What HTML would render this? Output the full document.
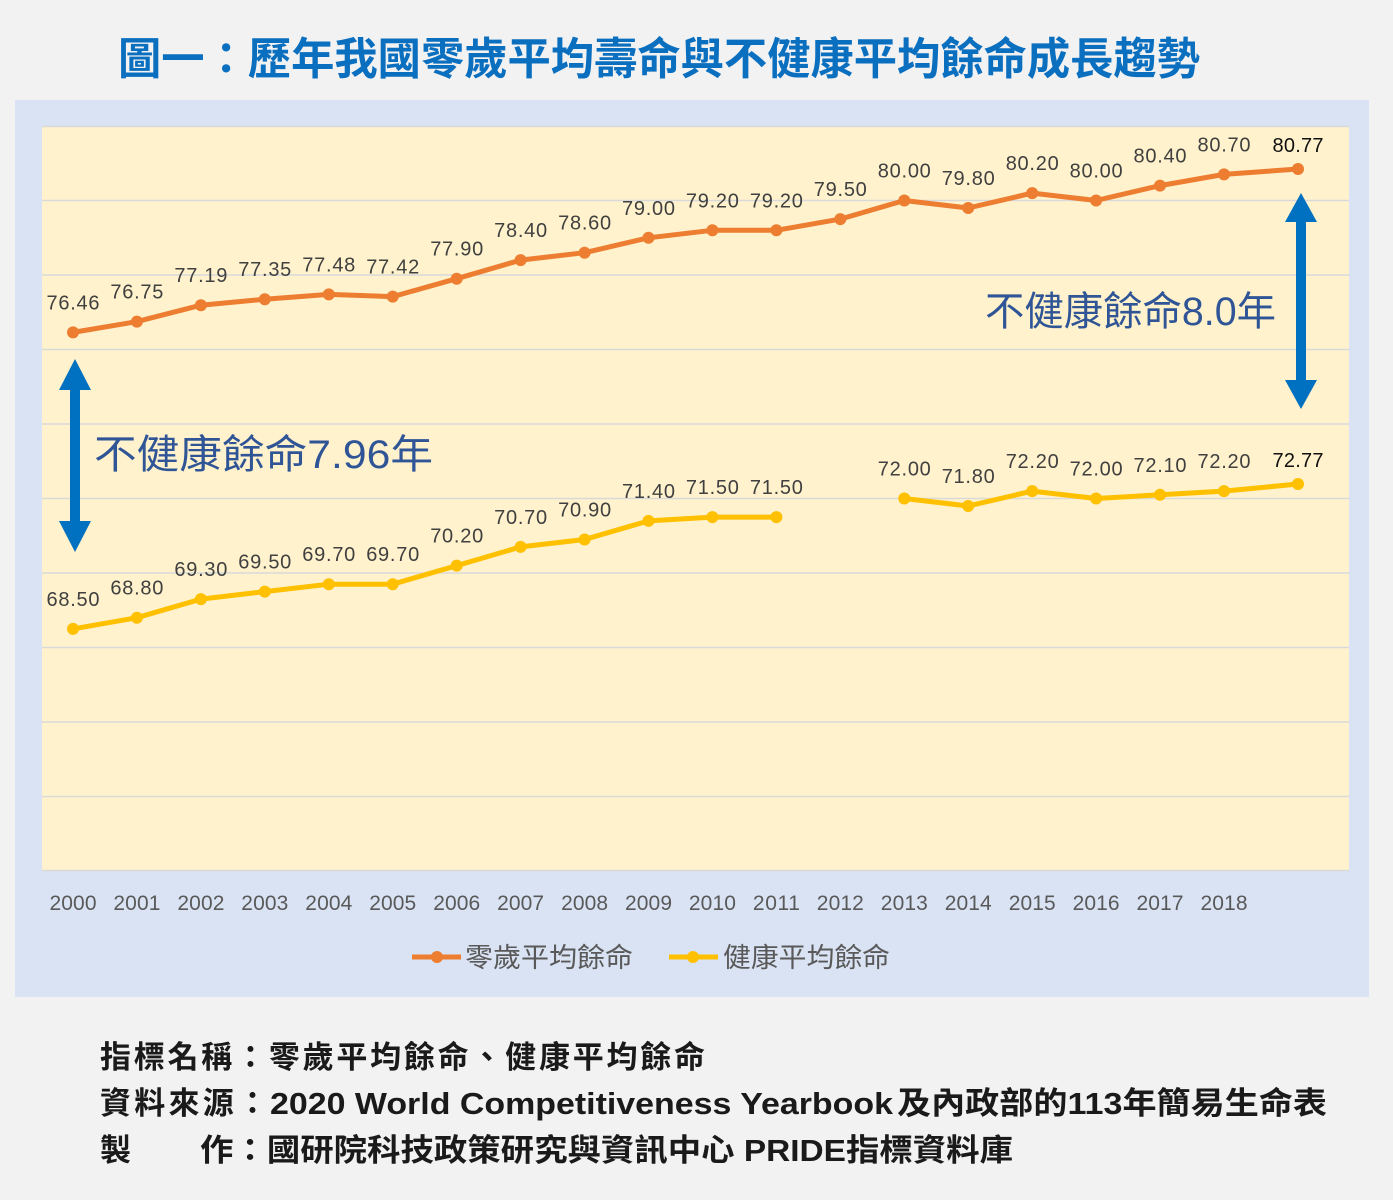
<!DOCTYPE html>
<html>
<head>
<meta charset="utf-8">
<style>
  html,body{margin:0;padding:0;background:#f2f2f2;}
  svg{display:block;}
  .lbl{font-family:"Liberation Sans","Noto Sans CJK TC",sans-serif;font-size:20px;fill:#404040;text-anchor:middle;}
  .lblb{font-family:"Liberation Sans","Noto Sans CJK TC",sans-serif;font-size:20px;fill:#111;text-anchor:middle;}
  .ax{font-family:"Liberation Sans","Noto Sans CJK TC",sans-serif;font-size:21px;fill:#595959;text-anchor:middle;}
  .cjk{font-family:"Liberation Sans","Noto Sans CJK TC",sans-serif;}
</style>
</head>
<body>
<svg width="1393" height="1200" viewBox="0 0 1393 1200" xmlns="http://www.w3.org/2000/svg">
  <rect x="0" y="0" width="1393" height="1200" fill="#f2f2f2"/>
  <!-- title -->
  <text x="118" y="74" class="cjk" font-size="44" font-weight="bold" fill="#0b6fc0" textLength="1082" lengthAdjust="spacingAndGlyphs">圖一：歷年我國零歲平均壽命與不健康平均餘命成長趨勢</text>

  <!-- panel -->
  <rect x="15" y="100" width="1354" height="897" fill="#dae3f3"/>
  <!-- plot area -->
  <rect x="42" y="126" width="1307" height="745" fill="#fff2cc"/>
  <g stroke="#d9d9d9" stroke-width="1.5">
    <line x1="42" y1="126.5" x2="1349" y2="126.5"/>
    <line x1="42" y1="200.5" x2="1349" y2="200.5"/>
    <line x1="42" y1="275" x2="1349" y2="275"/>
    <line x1="42" y1="349.5" x2="1349" y2="349.5"/>
    <line x1="42" y1="424" x2="1349" y2="424"/>
    <line x1="42" y1="498.5" x2="1349" y2="498.5"/>
    <line x1="42" y1="573" x2="1349" y2="573"/>
    <line x1="42" y1="647.5" x2="1349" y2="647.5"/>
    <line x1="42" y1="722" x2="1349" y2="722"/>
    <line x1="42" y1="796.5" x2="1349" y2="796.5"/>
    <line x1="42" y1="870.5" x2="1349" y2="870.5"/>
  </g>

  <!-- orange series -->
  <polyline fill="none" stroke="#ed7d31" stroke-width="5" stroke-linejoin="round" stroke-linecap="round"
    points="73,332.4 136.9,321.6 200.9,305.2 264.8,299.2 328.8,294.4 392.7,296.6 456.7,278.7 520.6,260.1 584.6,252.7 648.5,237.8 712.4,230.3 776.4,230.3 840.3,219.1 904.3,200.5 968.2,208 1032.2,193.1 1096.1,200.5 1160,185.6 1224,174.4 1298,169"/>
  <g fill="#ed7d31">
    <circle cx="73" cy="332.4" r="6"/><circle cx="136.9" cy="321.6" r="6"/><circle cx="200.9" cy="305.2" r="6"/>
    <circle cx="264.8" cy="299.2" r="6"/><circle cx="328.8" cy="294.4" r="6"/><circle cx="392.7" cy="296.6" r="6"/>
    <circle cx="456.7" cy="278.7" r="6"/><circle cx="520.6" cy="260.1" r="6"/><circle cx="584.6" cy="252.7" r="6"/>
    <circle cx="648.5" cy="237.8" r="6"/><circle cx="712.4" cy="230.3" r="6"/><circle cx="776.4" cy="230.3" r="6"/>
    <circle cx="840.3" cy="219.1" r="6"/><circle cx="904.3" cy="200.5" r="6"/><circle cx="968.2" cy="208" r="6"/>
    <circle cx="1032.2" cy="193.1" r="6"/><circle cx="1096.1" cy="200.5" r="6"/><circle cx="1160" cy="185.6" r="6"/>
    <circle cx="1224" cy="174.4" r="6"/><circle cx="1298" cy="169" r="6"/>
  </g>
  <g>
    <text class="lbl" x="73" y="309.4" textLength="53">76.46</text>
    <text class="lbl" x="136.9" y="298.6" textLength="53">76.75</text>
    <text class="lbl" x="200.9" y="282.2" textLength="53">77.19</text>
    <text class="lbl" x="264.8" y="276.2" textLength="53">77.35</text>
    <text class="lbl" x="328.8" y="271.4" textLength="53">77.48</text>
    <text class="lbl" x="392.7" y="273.6" textLength="53">77.42</text>
    <text class="lbl" x="456.7" y="255.7" textLength="53">77.90</text>
    <text class="lbl" x="520.6" y="237.1" textLength="53">78.40</text>
    <text class="lbl" x="584.6" y="229.7" textLength="53">78.60</text>
    <text class="lbl" x="648.5" y="214.8" textLength="53">79.00</text>
    <text class="lbl" x="712.4" y="207.3" textLength="53">79.20</text>
    <text class="lbl" x="776.4" y="207.3" textLength="53">79.20</text>
    <text class="lbl" x="840.3" y="196.1" textLength="53">79.50</text>
    <text class="lbl" x="904.3" y="177.5" textLength="53">80.00</text>
    <text class="lbl" x="968.2" y="185" textLength="53">79.80</text>
    <text class="lbl" x="1032.2" y="170.1" textLength="53">80.20</text>
    <text class="lbl" x="1096.1" y="177.5" textLength="53">80.00</text>
    <text class="lbl" x="1160" y="162.6" textLength="53">80.40</text>
    <text class="lbl" x="1224" y="151.4" textLength="53">80.70</text>
    <text class="lblb" x="1298" y="152" textLength="51">80.77</text>
  </g>

  <!-- yellow series -->
  <polyline fill="none" stroke="#ffc000" stroke-width="5" stroke-linejoin="round" stroke-linecap="round"
    points="73,628.9 136.9,617.7 200.9,599.1 264.8,591.6 328.8,584.2 392.7,584.2 456.7,565.6 520.6,546.9 584.6,539.5 648.5,520.9 712.4,517.1 776.4,517.1"/>
  <polyline fill="none" stroke="#ffc000" stroke-width="5" stroke-linejoin="round" stroke-linecap="round"
    points="904.3,498.5 968.2,506 1032.2,491.1 1096.1,498.5 1160,494.8 1224,491.1 1298,484"/>
  <g fill="#ffc000">
    <circle cx="73" cy="628.9" r="6"/><circle cx="136.9" cy="617.7" r="6"/><circle cx="200.9" cy="599.1" r="6"/>
    <circle cx="264.8" cy="591.6" r="6"/><circle cx="328.8" cy="584.2" r="6"/><circle cx="392.7" cy="584.2" r="6"/>
    <circle cx="456.7" cy="565.6" r="6"/><circle cx="520.6" cy="546.9" r="6"/><circle cx="584.6" cy="539.5" r="6"/>
    <circle cx="648.5" cy="520.9" r="6"/><circle cx="712.4" cy="517.1" r="6"/><circle cx="776.4" cy="517.1" r="6"/>
    <circle cx="904.3" cy="498.5" r="6"/><circle cx="968.2" cy="506" r="6"/><circle cx="1032.2" cy="491.1" r="6"/>
    <circle cx="1096.1" cy="498.5" r="6"/><circle cx="1160" cy="494.8" r="6"/><circle cx="1224" cy="491.1" r="6"/>
    <circle cx="1298" cy="484" r="6"/>
  </g>
  <g>
    <text class="lbl" x="73" y="605.9" textLength="53">68.50</text>
    <text class="lbl" x="136.9" y="594.7" textLength="53">68.80</text>
    <text class="lbl" x="200.9" y="576.1" textLength="53">69.30</text>
    <text class="lbl" x="264.8" y="568.6" textLength="53">69.50</text>
    <text class="lbl" x="328.8" y="561.2" textLength="53">69.70</text>
    <text class="lbl" x="392.7" y="561.2" textLength="53">69.70</text>
    <text class="lbl" x="456.7" y="542.6" textLength="53">70.20</text>
    <text class="lbl" x="520.6" y="523.9" textLength="53">70.70</text>
    <text class="lbl" x="584.6" y="516.5" textLength="53">70.90</text>
    <text class="lbl" x="648.5" y="497.9" textLength="53">71.40</text>
    <text class="lbl" x="712.4" y="494.1" textLength="53">71.50</text>
    <text class="lbl" x="776.4" y="494.1" textLength="53">71.50</text>
    <text class="lbl" x="904.3" y="475.5" textLength="53">72.00</text>
    <text class="lbl" x="968.2" y="483" textLength="53">71.80</text>
    <text class="lbl" x="1032.2" y="468.1" textLength="53">72.20</text>
    <text class="lbl" x="1096.1" y="475.5" textLength="53">72.00</text>
    <text class="lbl" x="1160" y="471.8" textLength="53">72.10</text>
    <text class="lbl" x="1224" y="468.1" textLength="53">72.20</text>
    <text class="lblb" x="1298" y="467" textLength="51">72.77</text>
  </g>

  <!-- arrows -->
  <g fill="#0070c0">
    <rect x="70" y="385" width="10" height="145"/>
    <polygon points="75,359 59,390 91,390"/>
    <polygon points="75,552 59,521 91,521"/>
    <rect x="1296" y="218" width="10" height="168"/>
    <polygon points="1301,193 1285,222 1317,222"/>
    <polygon points="1301,409 1285,380 1317,380"/>
  </g>
  <text x="94" y="468" class="cjk" font-size="40" fill="#2f5597" textLength="339" lengthAdjust="spacingAndGlyphs">不健康餘命7.96年</text>
  <text x="985" y="325" class="cjk" font-size="40" fill="#2f5597" textLength="291" lengthAdjust="spacingAndGlyphs">不健康餘命8.0年</text>

  <!-- x axis labels -->
  <g>
    <text class="ax" x="73" y="910" textLength="47">2000</text>
    <text class="ax" x="136.9" y="910" textLength="47">2001</text>
    <text class="ax" x="200.9" y="910" textLength="47">2002</text>
    <text class="ax" x="264.8" y="910" textLength="47">2003</text>
    <text class="ax" x="328.8" y="910" textLength="47">2004</text>
    <text class="ax" x="392.7" y="910" textLength="47">2005</text>
    <text class="ax" x="456.7" y="910" textLength="47">2006</text>
    <text class="ax" x="520.6" y="910" textLength="47">2007</text>
    <text class="ax" x="584.6" y="910" textLength="47">2008</text>
    <text class="ax" x="648.5" y="910" textLength="47">2009</text>
    <text class="ax" x="712.4" y="910" textLength="47">2010</text>
    <text class="ax" x="776.4" y="910" textLength="47">2011</text>
    <text class="ax" x="840.3" y="910" textLength="47">2012</text>
    <text class="ax" x="904.3" y="910" textLength="47">2013</text>
    <text class="ax" x="968.2" y="910" textLength="47">2014</text>
    <text class="ax" x="1032.2" y="910" textLength="47">2015</text>
    <text class="ax" x="1096.1" y="910" textLength="47">2016</text>
    <text class="ax" x="1160" y="910" textLength="47">2017</text>
    <text class="ax" x="1224" y="910" textLength="47">2018</text>
  </g>

  <!-- legend -->
  <line x1="412" y1="957" x2="461" y2="957" stroke="#ed7d31" stroke-width="5"/>
  <circle cx="437" cy="957" r="6" fill="#ed7d31"/>
  <text x="465" y="967" class="cjk" font-size="27" fill="#595959" textLength="168" lengthAdjust="spacingAndGlyphs">零歲平均餘命</text>
  <line x1="669" y1="957" x2="718" y2="957" stroke="#ffc000" stroke-width="5"/>
  <circle cx="693" cy="957" r="6" fill="#ffc000"/>
  <text x="723" y="967" class="cjk" font-size="27" fill="#595959" textLength="167" lengthAdjust="spacingAndGlyphs">健康平均餘命</text>

  <!-- footer -->
  <g class="cjk" font-size="31" font-weight="bold" fill="#1a1a1a">
    <text x="100" y="1068" textLength="605" lengthAdjust="spacing">指標名稱：零歲平均餘命、健康平均餘命</text>
    <text x="100" y="1114" textLength="168" lengthAdjust="spacing">資料來源：</text>
    <text x="270" y="1114" textLength="623" lengthAdjust="spacingAndGlyphs">2020 World Competitiveness Yearbook</text>
    <text x="897" y="1114" textLength="430" lengthAdjust="spacingAndGlyphs">及內政部的113年簡易生命表</text>
    <text x="100" y="1161">製</text>
    <text x="200" y="1161" textLength="813" lengthAdjust="spacingAndGlyphs">作：國研院科技政策研究與資訊中心 PRIDE指標資料庫</text>
  </g>
</svg>
</body>
</html>
